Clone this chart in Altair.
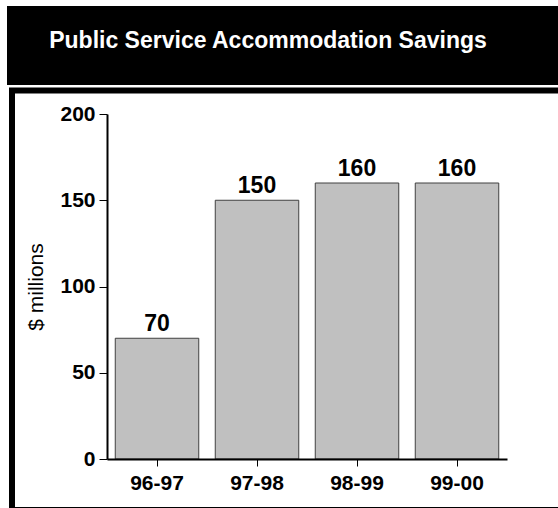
import altair as alt
import pandas as pd

years = ["96-97", "97-98", "98-99", "99-00"]
savings = [70, 150, 160, 160]
y_ticks = [0, 50, 100, 150, 200]
title_text = "Public Service Accommodation Savings"
y_title = "$ millions"

FONT = "Liberation Sans"

df = pd.DataFrame({"year": years, "value": savings})
one = alt.Data(values=[{"k": 1}])

W, H = 400, 345

box = alt.Chart(one).mark_rect(fill="white", stroke="black", strokeWidth=6, clip=False).encode(
    x=alt.value(-95), x2=alt.value(460), y=alt.value(-23.5), y2=alt.value(396)
)
header = alt.Chart(one).mark_rect(fill="black", clip=False).encode(
    x=alt.value(-100), x2=alt.value(460), y=alt.value(-108), y2=alt.value(-29)
)
title = alt.Chart(one).mark_text(
    text=title_text, font=FONT, fontSize=23, fontWeight="bold", color="white",
    align="center", baseline="alphabetic", clip=False
).encode(x=alt.value(161), y=alt.value(-66))

bars = alt.Chart(df).mark_bar(fill="#c0c0c0", stroke="#404040", strokeWidth=1).encode(
    x=alt.X("year:N", sort=years,
            scale=alt.Scale(paddingInner=0.165, paddingOuter=0.0825),
            axis=alt.Axis(title=None, labelAngle=0, labelFont=FONT, labelFontSize=21,
                          labelFontWeight="bold", labelColor="black", labelPadding=6,
                          tickSize=7, tickColor="black", tickWidth=1,
                          domainColor="black", domainWidth=2, zindex=1)),
    y=alt.Y("value:Q", scale=alt.Scale(domain=[0, 200], nice=False),
            axis=alt.Axis(values=y_ticks, title=y_title, titleFont=FONT, titleFontSize=21,
                          titleFontWeight="normal", titleColor="black", titlePadding=13,
                          labelFont=FONT, labelFontSize=21, labelFontWeight="bold",
                          labelColor="black", labelPadding=4, tickSize=8, tickColor="black",
                          tickWidth=1, domainColor="black", domainWidth=2, grid=False,
                          zindex=1)),
)
labels = alt.Chart(df).mark_text(
    font=FONT, fontSize=23, fontWeight="bold", color="black", baseline="alphabetic", dy=-7
).encode(
    x=alt.X("year:N", sort=years),
    y=alt.Y("value:Q"),
    text=alt.Text("value:Q"),
)

chart = alt.layer(box, header, title, bars, labels).properties(
    width=W, height=H,
    padding={"left": 107, "top": 114, "right": 51, "bottom": 49},
    autosize=alt.AutoSizeParams(type="none"),
).configure_view(strokeOpacity=0).configure(background="white")

chart.save("out.html", embed_options={"renderer": "svg", "actions": False})
